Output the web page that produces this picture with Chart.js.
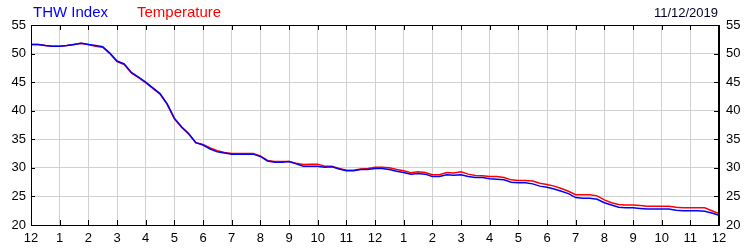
<!DOCTYPE html>
<html>
<head>
<meta charset="utf-8">
<script src="https://cdn.jsdelivr.net/npm/chart.js@4.4.0/dist/chart.umd.js"></script>
<style>
    html, body { margin: 0; padding: 0; background: #fff; }
    #wrap { position: relative; width: 750px; height: 250px; }
</style>
</head>
<body>
<div id="wrap"><canvas id="chart" width="750" height="250"></canvas></div>
<script>
// readings every 15 minutes, midnight to midnight
const hours = [];
for (let i = 0; i <= 96; i++) hours.push(i / 4);

const hourLabels = ['12', '1', '2', '3', '4', '5', '6', '7', '8', '9', '10', '11',
                    '12', '1', '2', '3', '4', '5', '6', '7', '8', '9', '10', '11', '12'];
const yTicks = [20, 25, 30, 35, 40, 45, 50, 55];

const thwIndex = [
    51.6, 51.6, 51.4, 51.3, 51.3, 51.4, 51.6, 51.8, 51.6, 51.4, 51.2, 50.1,
    48.7, 48.2, 46.7, 45.9, 45.0, 44.0, 43.0, 41.2, 38.7, 37.2, 36.0, 34.4,
    34.0, 33.3, 32.8, 32.6, 32.4, 32.4, 32.4, 32.4, 32.0, 31.2, 31.0, 31.0,
    31.1, 30.7, 30.3, 30.3, 30.3, 30.1, 30.2, 29.8, 29.5, 29.5, 29.7, 29.7,
    29.9, 29.9, 29.7, 29.4, 29.2, 28.9, 29.0, 28.9, 28.5, 28.5, 28.8, 28.7,
    28.8, 28.5, 28.3, 28.3, 28.1, 28.0, 27.9, 27.5, 27.4, 27.4, 27.2, 26.8,
    26.6, 26.3, 25.9, 25.5, 24.8, 24.7, 24.7, 24.5, 23.9, 23.5, 23.1, 23.0,
    23.0, 22.9, 22.8, 22.8, 22.8, 22.8, 22.6, 22.5, 22.5, 22.5, 22.4, 22.1,
    21.7
];
const temperature = [
    51.6, 51.6, 51.4, 51.3, 51.3, 51.4, 51.6, 51.8, 51.6, 51.3, 51.1, 50.0,
    48.6, 48.1, 46.6, 45.8, 44.9, 43.9, 42.9, 41.1, 38.6, 37.1, 35.9, 34.4,
    34.1, 33.5, 33.0, 32.7, 32.5, 32.5, 32.5, 32.5, 32.1, 31.3, 31.1, 31.1,
    31.1, 30.8, 30.6, 30.65, 30.65, 30.3, 30.3, 29.9, 29.6, 29.6, 29.8, 29.9,
    30.1, 30.1, 30.0, 29.7, 29.5, 29.15, 29.3, 29.2, 28.8, 28.8, 29.2, 29.1,
    29.3, 28.9, 28.65, 28.6, 28.5, 28.5, 28.3, 27.9, 27.8, 27.8, 27.7, 27.3,
    27.1, 26.8, 26.4, 25.9, 25.3, 25.3, 25.3, 25.1, 24.4, 23.9, 23.6, 23.5,
    23.5, 23.4, 23.3, 23.3, 23.3, 23.3, 23.1, 23.0, 23.0, 23.0, 23.0, 22.5,
    22.0
];

const FONT = '"Liberation Sans", Arial, sans-serif';

// header texts, plot frame and inward tick marks
const decor = {
    id: 'decor',
    afterDraw(chart) {
        const { ctx, chartArea: a, scales } = chart;
        ctx.save();
        ctx.textBaseline = 'alphabetic';
        ctx.font = '15px ' + FONT;
        ctx.textAlign = 'left';
        ctx.fillStyle = '#0000ff';
        ctx.fillText('THW Index', 33, 17);
        ctx.fillStyle = '#ff0000';
        ctx.fillText('Temperature', 137, 17);
        ctx.font = '13px ' + FONT;
        ctx.textAlign = 'right';
        ctx.fillStyle = '#000030';
        ctx.fillText('11/12/2019', 718, 17);

        ctx.strokeStyle = '#000';
        ctx.lineWidth = 1;
        ctx.strokeRect(a.left + 0.5, a.top + 0.5, a.right - a.left - 1, a.bottom - a.top);
        ctx.beginPath();
        hours.filter((h) => Number.isInteger(h)).forEach((h) => {
            const x = Math.round(scales.x.getPixelForValue(h)) + 0.5;
            ctx.moveTo(x, a.bottom); ctx.lineTo(x, a.bottom - 5);
            ctx.moveTo(x, a.top); ctx.lineTo(x, a.top + 5);
        });
        yTicks.forEach((v) => {
            const y = Math.round(scales.y.getPixelForValue(v)) + 0.5;
            ctx.moveTo(a.left, y); ctx.lineTo(a.left + 4, y);
            ctx.moveTo(a.right, y); ctx.lineTo(a.right - 5, y);
        });
        ctx.stroke();
        ctx.restore();
    }
};

const pts = (arr) => hours.map((h, i) => ({ x: h, y: arr[i] }));

new Chart(document.getElementById('chart'), {
    type: 'line',
    data: {
        datasets: [
            { label: 'THW Index', data: pts(thwIndex), borderColor: '#0000ff', borderWidth: 1.5, pointRadius: 0, tension: 0 },
            { label: 'Temperature', data: pts(temperature), borderColor: '#ff0000', borderWidth: 1.5, pointRadius: 0, tension: 0 },
        ]
    },
    options: {
        responsive: false,
        animation: false,
        layout: { padding: { top: 25, left: 0, right: 0, bottom: 0 } },
        plugins: { legend: { display: false }, tooltip: { enabled: false } },
        scales: {
            x: {
                type: 'linear', min: 0, max: 24,
                afterFit: (s) => { s.height = 25; },
                grid: { color: '#d0d0d0', drawTicks: false },
                border: { color: '#000' },
                ticks: { stepSize: 1, autoSkip: false, maxRotation: 0, padding: 6, color: '#000',
                         font: { family: FONT, size: 13 }, callback: (v) => hourLabels[v] }
            },
            y: {
                position: 'left', min: 20, max: 55,
                afterFit: (s) => { s.width = 31; },
                grid: { color: '#d0d0d0', drawTicks: false },
                border: { color: '#000' },
                ticks: { stepSize: 5, padding: 5, color: '#000', font: { family: FONT, size: 13 } }
            },
            y2: {
                position: 'right', min: 20, max: 55,
                afterFit: (s) => { s.width = 31; },
                grid: { drawOnChartArea: false, drawTicks: false },
                border: { color: '#000' },
                ticks: { stepSize: 5, padding: 7, color: '#000', font: { family: FONT, size: 13 } }
            }
        }
    },
    plugins: [decor]
});
</script>
</body>
</html>
